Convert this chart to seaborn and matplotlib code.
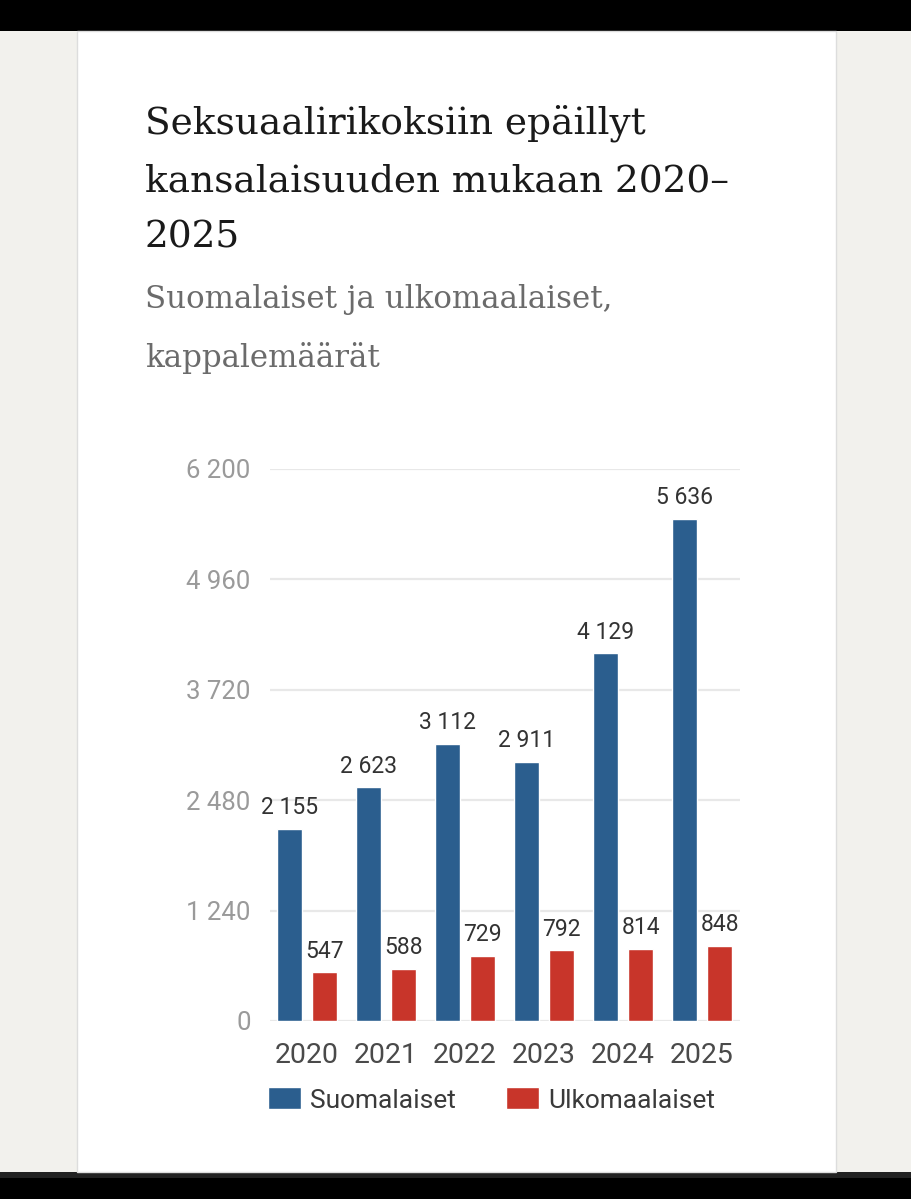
import pandas as pd
import matplotlib.pyplot as plt
import seaborn as sns
from matplotlib.patches import Rectangle

years = ["2020", "2021", "2022", "2023", "2024", "2025"]
suomalaiset = [2155, 2623, 3112, 2911, 4129, 5636]
ulkomaalaiset = [547, 588, 729, 792, 814, 848]
groups = ["Suomalaiset", "Ulkomaalaiset"]
y_ticks = [0, 1240, 2480, 3720, 4960, 6200]

title_lines = ["Seksuaalirikoksiin epäillyt", "kansalaisuuden mukaan 2020–", "2025"]
subtitle_lines = ["Suomalaiset ja ulkomaalaiset,", "kappalemäärät"]

colors = {"Suomalaiset": "#2b5e8e", "Ulkomaalaiset": "#c8352a"}


def fmt(v):
    return f"{v:,}".replace(",", " ")


def main():
    df = pd.DataFrame({
        "year": years * 2,
        "value": suomalaiset + ulkomaalaiset,
        "group": [groups[0]] * len(years) + [groups[1]] * len(years),
    })

    sns.set_style("white")
    plt.rcParams["font.family"] = ["Roboto", "DejaVu Sans"]

    W, H = 912, 1199
    fig = plt.figure(figsize=(W / 100, H / 100), dpi=100)
    fig.patch.set_facecolor("#f2f1ed")

    # screenshot frame: black bars and white card
    frame = [
        Rectangle((0, 1 - 31 / H), 1, 31 / H, facecolor="black", edgecolor="none"),
        Rectangle((0, 0), 1, 27 / H, facecolor="black", edgecolor="none"),
        Rectangle((0, 21 / H), 1, 6 / H, facecolor="#222222", edgecolor="none"),
        Rectangle((77 / W, 27 / H), (836 - 77) / W, (1168 - 27) / H,
                  facecolor="white", edgecolor="#dddddd", linewidth=1),
    ]
    for r in frame:
        r.set_transform(fig.transFigure)
        r.set_zorder(-10)
        fig.patches.append(r)

    ax = fig.add_axes([270 / W, 178 / H, 470 / W, 552 / H])
    ax.set_zorder(5)
    ax.set_facecolor("none")

    sns.barplot(data=df, x="year", y="value", hue="group", palette=colors,
                saturation=1, width=0.886, gap=0.27, ax=ax, zorder=3)

    ax.set_xlim(-0.47, 5.48)
    ax.set_ylim(0, 6200)
    ax.set_yticks(y_ticks)
    ax.set_yticklabels([fmt(t) for t in y_ticks])
    ax.yaxis.grid(True, color="#e8e8e8", linewidth=1.6, zorder=0)
    ax.set_axisbelow(True)
    sns.despine(ax=ax, left=True, bottom=True)
    ax.tick_params(axis="y", length=0, pad=14, labelsize=18.5, labelcolor="#9a9a9a")
    ax.tick_params(axis="x", length=0, pad=15, labelsize=20.5, labelcolor="#4a4a4a")
    ax.set_xlabel("")
    ax.set_ylabel("")

    for cont, vals in zip(ax.containers, [suomalaiset, ulkomaalaiset]):
        ax.bar_label(cont, labels=[fmt(v) for v in vals], padding=7,
                     fontsize=16.5, color="#333333")

    handles, labels = ax.get_legend_handles_labels()
    ax.get_legend().remove()
    fig.legend(handles, labels, loc="center left",
               bbox_to_anchor=(268 / W, (H - 1100) / H), ncol=2, frameon=False,
               borderpad=0, borderaxespad=0,
               fontsize=19, handlelength=1.25, handleheight=0.9,
               handletextpad=0.35, columnspacing=1.9, labelcolor="#3a3a3a")

    serif = ["DejaVu Serif"]
    for line, base in zip(title_lines, [133, 191, 248]):
        fig.text(145 / W, (H - base) / H, line, family=serif, fontsize=27,
                 color="#1a1a1a", va="baseline", ha="left")
    for line, base in zip(subtitle_lines, [308, 367]):
        fig.text(145 / W, (H - base) / H, line, family=serif, fontsize=22.2,
                 color="#6b6b6b", va="baseline", ha="left")

    fig.savefig("out.png", dpi=100, facecolor=fig.get_facecolor())


if __name__ == "__main__":
    main()
